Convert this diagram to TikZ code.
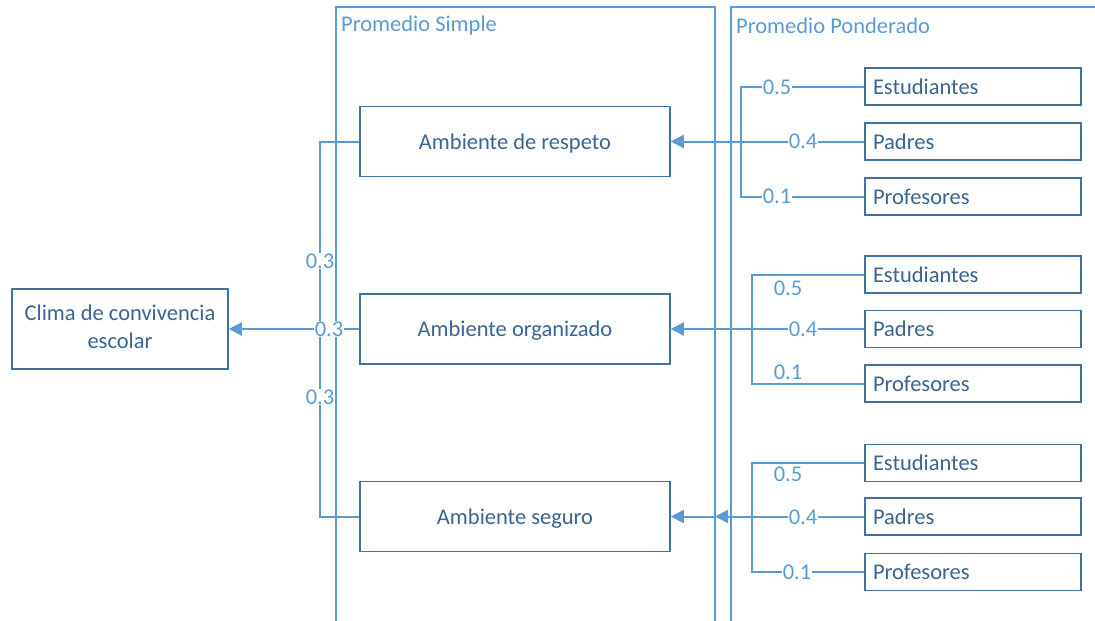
\documentclass[tikz,border=0pt]{standalone}
\usepackage{fontspec}
\setmainfont{Carlito}
\usetikzlibrary{arrows.meta}
\definecolor{lane}{HTML}{5B9BD5}
\definecolor{boxline}{HTML}{41719C}
\definecolor{boxtext}{HTML}{3A6591}
\definecolor{conn}{HTML}{5B9BD5}
\tikzset{
  every node/.style={font=\fontsize{22.5}{28}\selectfont},
  bigbox/.style={draw=boxline, line width=1.5pt, fill=white, text=boxtext, minimum width=310pt, minimum height=70pt, inner sep=0pt, text depth=0pt},
  srcbox/.style={draw=boxline, line width=1.5pt, fill=white, text=boxtext, minimum width=216pt, minimum height=37pt, inner sep=8pt, text width=200pt, align=left},
  clbox/.style={draw=boxline, line width=1.5pt, fill=white, text=boxtext, minimum width=216pt, minimum height=80pt, inner sep=0pt, align=center},
  lanestyle/.style={draw=lane, line width=1.6pt},
  lanelabel/.style={text=lane, anchor=west, inner sep=0pt},
  wire/.style={draw=conn, line width=2pt},
  arr/.style={draw=conn, line width=2pt, -{Triangle[length=13pt,width=13pt]}},
  wlabel/.style={text=conn, fill=white, inner sep=1pt},
}
\begin{document}
\begin{tikzpicture}[x=1pt,y=-1pt]
\useasboundingbox (0,0) rectangle (1095,621);
% lanes
\draw[lanestyle] (336,630) -- (336,7) -- (715,7) -- (715,630);
\draw[lanestyle] (731,630) -- (731,7) -- (1100,7);
\node[lanelabel] (l1) at (341,26) {Promedio Simple};
\node[lanelabel] (l2) at (736,26) {Promedio Ponderado};

% main boxes
\node[bigbox] (resp) at (515,141.5) {Ambiente de respeto};
\node[bigbox] (org) at (515,329) {Ambiente organizado};
\node[bigbox] (seg) at (515,516.5) {Ambiente seguro};
\node[clbox] (clima) at (120,329) {\raisebox{3pt}{\begin{tabular}{@{}c@{}}Clima de convivencia\\escolar\end{tabular}}};

% source boxes
\node[srcbox] (e1) at (973,86.5) {Estudiantes};
\node[srcbox] (p1) at (973,141.5) {Padres};
\node[srcbox] (f1) at (973,196.5) {Profesores};
\node[srcbox] (e2) at (973,274.5) {Estudiantes};
\node[srcbox] (p2) at (973,329) {Padres};
\node[srcbox] (f2) at (973,383.5) {Profesores};
\node[srcbox] (e3) at (973,463) {Estudiantes};
\node[srcbox] (p3) at (973,516.5) {Padres};
\node[srcbox] (f3) at (973,572) {Profesores};

% group 1
\draw[wire] (e1.west) -- (741,86.5) -- (741,196.5) -- (f1.west);
\draw[arr] (p1.west) -- (resp.east);
\node[wlabel] (w1a) at (777,87) {0.5};
\node[wlabel] (w1b) at (803,141.5) {0.4};
\node[wlabel] (w1c) at (777,196.5) {0.1};

% group 2
\draw[wire] (e2.west) -- (752,274.5) -- (752,383.5) -- (f2.west);
\draw[arr] (p2.west) -- (org.east);
\node[wlabel] (w2a) at (788,288) {0.5};
\node[wlabel] (w2b) at (803,329) {0.4};
\node[wlabel] (w2c) at (788,372) {0.1};

% group 3
\coordinate (mid3) at (715,516.5);
\draw[wire] (e3.west) -- (752,463) -- (752,572) -- (f3.west);
\draw[arr] (p3.west) -- (mid3);
\draw[arr] (mid3) -- (seg.east);
\node[wlabel] (w3a) at (788,474) {0.5};
\node[wlabel] (w3b) at (803,517) {0.4};
\node[wlabel] (w3c) at (797,572.5) {0.1};

% left side
\draw[wire] (resp.west) -- (320,141.5) -- (320,516.5) -- (seg.west);
\draw[arr] (org.west) -- (clima.east);
\node[wlabel] (w0a) at (320,261) {0.3};
\node[wlabel] (w0b) at (329,329) {0.3};
\node[wlabel] (w0c) at (320,397) {0.3};
\end{tikzpicture}
\end{document}
